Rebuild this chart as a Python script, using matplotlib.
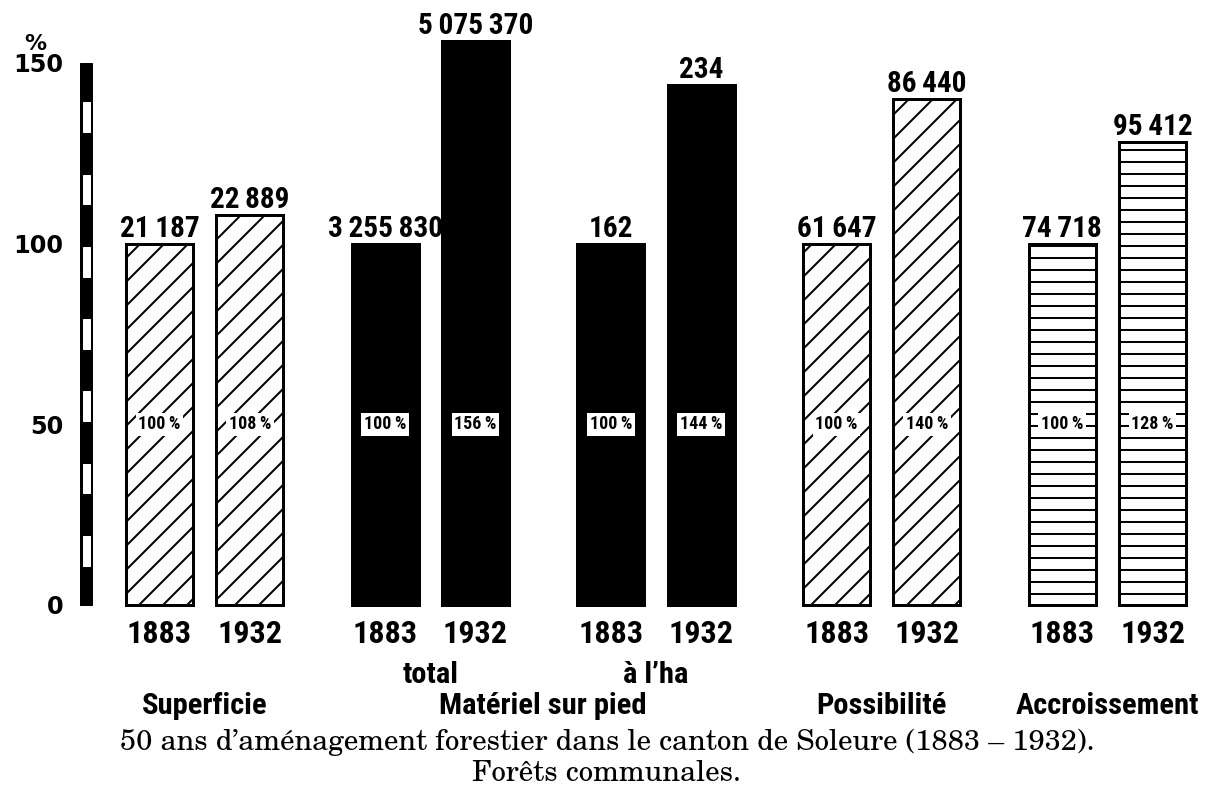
"""50 ans d'aménagement forestier dans le canton de Soleure (1883-1932).

Barres en % de 1883 (=100), valeurs absolues au-dessus des barres.
Sortie: out.png
"""
import matplotlib

matplotlib.use("Agg")
import matplotlib.pyplot as plt
import matplotlib.transforms as mtransforms
import numpy as np
from matplotlib import font_manager
from matplotlib.patches import Rectangle

# --- données ---------------------------------------------------------------
CATEGORIES = [
    "Superficie",
    "Matériel sur pied total",
    "Matériel sur pied à l'ha",
    "Possibilité",
    "Accroissement",
]
SUBLABELS = ["", "total", "à l\u2019ha", "", ""]
YEARS = ["1883", "1932"]
PCT_1883 = [100, 100, 100, 100, 100]
PCT_1932 = [108, 156, 144, 140, 128]
ABS_1883 = ["21\u2009187", "3\u2009255\u2009830", "162", "61\u2009647", "74\u2009718"]
ABS_1932 = ["22\u2009889", "5\u2009075\u2009370", "234", "86\u2009440", "95\u2009412"]
# (libellé, premier groupe, dernier groupe)
GROUP_LABELS = [
    ("Superficie", 0, 0),
    ("Matériel sur pied", 1, 2),
    ("Possibilité", 3, 3),
    ("Accroissement", 4, 4),
]
Y_TICKS = [0, 50, 100, 150]
CAPTION = [
    "50 ans d\u2019aménagement forestier dans le canton de Soleure (1883 \u2013 1932).",
    "Forêts communales.",
]

# --- style -----------------------------------------------------------------
FILLS = ["white", "black", "black", "white", "white"]
HATCHES = ["/", None, None, "/", "-"]
GROUP_STEP = 2.5
BAR_W = 0.74

_names = {f.name for f in font_manager.fontManager.ttflist}


def pick(cands):
    return next(c for c in cands if c in _names or c.startswith("DejaVu"))


COND = pick(["Roboto Condensed", "Archivo Narrow", "IBM Plex Sans Condensed",
             "Open Sans Condensed", "Liberation Sans Narrow", "DejaVu Sans"])
SERIF = pick(["C059", "TeX Gyre Schola", "Century Schoolbook L",
              "New Century Schoolbook", "DejaVu Serif"])

plt.rcParams["hatch.linewidth"] = 2.0
plt.rcParams["font.family"] = [COND, "DejaVu Sans"]

DPI = 72
fig = plt.figure(figsize=(1214 / DPI, 794 / DPI), dpi=DPI)
fig.patch.set_facecolor("white")
renderer = fig.canvas.get_renderer()


def fit_size(sample, target_px, **kw):
    """Taille de police pour que `sample` fasse `target_px` de large."""
    t = fig.text(0, 0, sample, fontsize=100, **kw)
    w = t.get_window_extent(renderer).width
    t.remove()
    return 100 * target_px / w


FS_YEAR = fit_size("1883", 65, fontweight="bold")
FS_VAL = fit_size(ABS_1932[1], 115, fontweight="bold")
FS_GROUP = fit_size("Accroissement", 183, fontweight="bold")
FS_PCT = 18
FS_CAP = min(fit_size(CAPTION[0], 1127, family=SERIF), 29)

ax = fig.add_axes([80 / 1214, 189 / 794, 1134 / 1214, 542 / 794])
ax.set_xlim(-0.88, 11.68)
ax.set_ylim(0, 150)
for sp in ax.spines.values():
    sp.set_visible(False)
ax.set_xticks([])
ax.set_yticks(Y_TICKS)
ax.set_yticklabels([str(t) for t in Y_TICKS], family="DejaVu Sans",
                   fontweight="bold", fontsize=24)
ax.tick_params(axis="y", length=0, pad=17)

# axe vertical noir/blanc (segments de 10 %)
axis_tr = mtransforms.blended_transform_factory(ax.transAxes, ax.transData)
aw = 12 / 1134
ax.add_patch(Rectangle((0, 0), aw, 150, transform=axis_tr,
                       color="black", clip_on=False, zorder=3))
inset = 2.5 / 1134
for lo in range(10, 150, 20):
    ax.add_patch(Rectangle((inset, lo + 0.9), aw - 2 * inset, 8.2,
                           transform=axis_tr, color="white",
                           clip_on=False, zorder=4))
ax.annotate("%", (0, 150), xycoords=axis_tr, xytext=(-45, 13),
            textcoords="offset points", ha="center", va="baseline",
            family="DejaVu Sans", fontweight="bold", fontsize=22,
            annotation_clip=False)

x = np.arange(len(CATEGORIES)) * GROUP_STEP
for i, (year, pcts, absv) in enumerate(
        zip(YEARS, [PCT_1883, PCT_1932], [ABS_1883, ABS_1932])):
    xs = x + i
    bars = ax.bar(xs, pcts, width=BAR_W, edgecolor="black", linewidth=3,
                  zorder=2, clip_on=False)
    for bar, fill, hatch in zip(bars, FILLS, HATCHES):
        bar.set_facecolor(fill)
        if hatch:
            bar.set_hatch(hatch)
    for xc, pct, lab in zip(xs, pcts, absv):
        ax.annotate(lab, (xc, pct), xytext=(0, 7), textcoords="offset points",
                    ha="center", va="baseline", fontsize=FS_VAL,
                    fontweight="bold", annotation_clip=False, zorder=6)
        ax.text(xc, 50, f"{pct}\u2009%", ha="center", va="center",
                fontsize=FS_PCT, fontweight="bold", zorder=5,
                bbox=dict(boxstyle="square,pad=0.15", fc="white", ec="none"))
        ax.annotate(year, (xc, 0), xytext=(0, -38), textcoords="offset points",
                    ha="center", va="baseline", fontsize=FS_YEAR,
                    fontweight="bold", annotation_clip=False)

for xc, sub in zip(x + 0.5, SUBLABELS):
    if sub:
        ax.annotate(sub, (xc, 0), xytext=(0, -78), textcoords="offset points",
                    ha="center", va="baseline", fontsize=FS_GROUP,
                    fontweight="bold", annotation_clip=False)

for lab, g0, g1 in GROUP_LABELS:
    xc = (x[g0] + x[g1]) / 2 + 0.5
    ax.annotate(lab, (xc, 0), xytext=(0, -109), textcoords="offset points",
                ha="center", va="baseline", fontsize=FS_GROUP,
                fontweight="bold", annotation_clip=False)

fig.text(0.5, 1 - 750 / 794, CAPTION[0], ha="center", va="baseline",
         family=SERIF, fontsize=FS_CAP)
fig.text(0.5, 1 - 781 / 794, CAPTION[1], ha="center", va="baseline",
         family=SERIF, fontsize=FS_CAP)

fig.savefig("out.png", dpi=DPI, facecolor="white")
